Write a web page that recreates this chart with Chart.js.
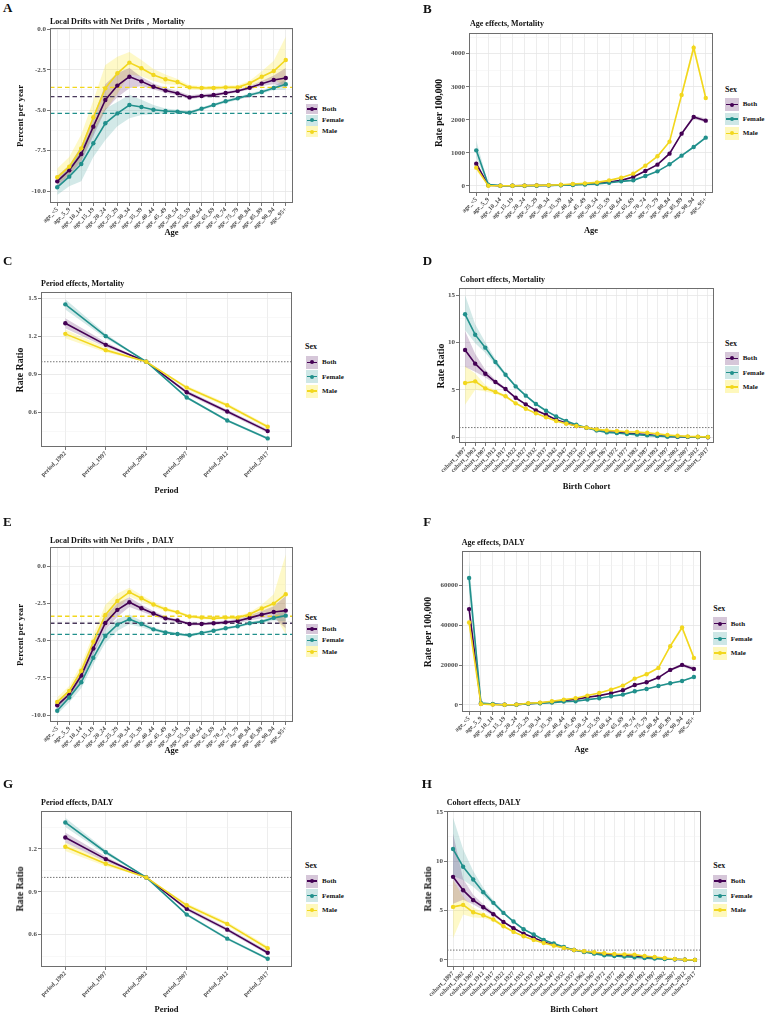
<!DOCTYPE html>
<html><head><meta charset="utf-8">
<script src="https://cdn.jsdelivr.net/npm/chart.js@4/dist/chart.umd.min.js"></script>
<style>
html,body{margin:0;padding:0;background:#fff;}
body{width:767px;height:1015px;position:relative;overflow:hidden;}
canvas{position:absolute;}
</style></head>
<body>
<script>
// ---------- categories ----------
const ageLabels = ['age_<5','age_5_9','age_10_14','age_15_19','age_20_24','age_25_29','age_30_34','age_35_39','age_40_44','age_45_49','age_50_54','age_55_59','age_60_64','age_65_69','age_70_74','age_75_79','age_80_84','age_85_89','age_90_94','age_95+'];
const periodLabels = ['period_1992','period_1997','period_2002','period_2007','period_2012','period_2017'];
const cohortLabels = ['cohort_1897','cohort_1902','cohort_1907','cohort_1912','cohort_1917','cohort_1922','cohort_1927','cohort_1932','cohort_1937','cohort_1942','cohort_1947','cohort_1952','cohort_1957','cohort_1962','cohort_1967','cohort_1972','cohort_1977','cohort_1982','cohort_1987','cohort_1992','cohort_1997','cohort_2002','cohort_2007','cohort_2012','cohort_2017'];
const sexNames = ['Both','Female','Male'];

// ---------- tick labels ----------
const A_yTicks = [-10, -7.5, -5, -2.5, 0];
const B_yTicks = [0, 1000, 2000, 3000, 4000];
const C_yTicks = [0.6, 0.9, 1.2, 1.5];
const D_yTicks = [0, 5, 10, 15];
const E_yTicks = [-10, -7.5, -5, -2.5, 0];
const F_yTicks = [0, 20000, 40000, 60000];
const G_yTicks = [0.6, 0.9, 1.2];
const H_yTicks = [0, 5, 10, 15];

// ---------- A: Local drifts, Mortality ----------
const A_both     = [-9.40,-8.72,-7.71,-6.02,-4.37,-3.48,-2.93,-3.22,-3.55,-3.79,-3.96,-4.21,-4.12,-4.06,-3.94,-3.81,-3.61,-3.36,-3.13,-3.01];
const A_bothLo   = [-9.75,-9.05,-8.20,-6.60,-5.00,-4.20,-3.65,-3.50,-3.72,-3.92,-4.08,-4.32,-4.22,-4.15,-4.03,-3.90,-3.72,-3.50,-3.40,-3.60];
const A_bothHi   = [-9.05,-8.40,-7.20,-5.40,-3.40,-2.70,-2.40,-2.95,-3.35,-3.62,-3.82,-4.08,-4.00,-3.96,-3.85,-3.72,-3.50,-3.20,-2.85,-2.40];
const A_female   = [-9.77,-9.11,-8.33,-7.05,-5.81,-5.20,-4.68,-4.80,-4.97,-5.05,-5.09,-5.15,-4.91,-4.68,-4.45,-4.27,-4.06,-3.88,-3.63,-3.40];
const A_femaleLo = [-10.25,-9.70,-9.40,-7.90,-6.85,-6.00,-5.50,-5.30,-5.25,-5.20,-5.20,-5.25,-5.00,-4.77,-4.55,-4.37,-4.16,-3.99,-3.76,-3.75];
const A_femaleHi = [-9.30,-8.55,-7.30,-6.10,-4.90,-4.50,-4.05,-4.35,-4.68,-4.90,-4.98,-5.05,-4.82,-4.59,-4.35,-4.17,-3.96,-3.77,-3.50,-3.10];
const A_male     = [-9.15,-8.49,-7.36,-5.44,-3.65,-2.72,-2.06,-2.41,-2.82,-3.09,-3.26,-3.59,-3.63,-3.63,-3.59,-3.59,-3.34,-2.93,-2.58,-1.90];
const A_maleLo   = [-9.60,-9.00,-8.10,-6.40,-5.00,-4.00,-2.80,-2.90,-3.20,-3.40,-3.45,-3.72,-3.75,-3.75,-3.71,-3.72,-3.50,-3.25,-3.10,-3.55];
const A_maleHi   = [-8.60,-7.90,-6.50,-4.40,-2.20,-1.70,-1.40,-1.90,-2.45,-2.80,-3.07,-3.46,-3.51,-3.51,-3.47,-3.46,-3.18,-2.60,-1.95,-0.45];
const A_netDrift = [-4.16, -5.20, -3.59];

// ---------- B: Age effects, Mortality ----------
const B_both     = [675,20,8,8,10,15,20,30,45,60,85,120,170,272,453,645,977,1582,2086,1975];
const B_bothLo   = [600,15,5,5,7,11,16,25,40,54,78,112,160,258,435,622,948,1545,2030,1920];
const B_bothHi   = [760,26,11,11,13,19,24,35,50,66,92,128,180,286,471,668,1006,1620,2140,2040];
const B_female   = [1078,40,10,8,8,10,15,22,32,45,65,100,140,170,300,443,655,917,1179,1461];
const B_femaleLo = [850,33,7,5,5,7,11,18,28,40,59,93,132,161,288,428,636,895,1150,1425];
const B_femaleHi = [1380,48,13,11,11,13,19,26,36,50,71,107,148,179,312,458,674,939,1208,1497];
const B_male     = [554,5,5,8,12,20,25,38,58,80,110,170,252,373,615,897,1340,2750,4181,2660];
const B_maleLo   = [470,2,2,5,9,16,21,33,52,74,102,161,240,358,595,872,1305,2690,4050,2590];
const B_maleHi   = [640,9,8,11,15,24,29,43,64,86,118,179,264,388,635,922,1375,2810,4330,2730];

// ---------- C: Period effects, Mortality ----------
const C_both     = [1.305,1.134,1.0,0.758,0.605,0.450];
const C_bothLo   = [1.265,1.114,1.0,0.743,0.590,0.435];
const C_bothHi   = [1.345,1.154,1.0,0.773,0.620,0.465];
const C_female   = [1.455,1.203,1.0,0.716,0.534,0.392];
const C_femaleLo = [1.415,1.185,1.0,0.706,0.524,0.382];
const C_femaleHi = [1.495,1.221,1.0,0.726,0.544,0.402];
const C_male     = [1.221,1.092,1.0,0.795,0.655,0.484];
const C_maleLo   = [1.186,1.074,1.0,0.780,0.640,0.469];
const C_maleHi   = [1.256,1.110,1.0,0.810,0.670,0.499];
const C_refLine  = [1];

// ---------- D: Cohort effects, Mortality ----------
const D_both     = [9.19,7.75,6.69,5.81,5.07,4.15,3.45,2.82,2.36,1.83,1.48,1.16,0.99,0.74,0.56,0.49,0.39,0.32,0.25,0.14,0.07,0.04,0.02,0.01,-0.02];
const D_bothLo   = [7.4,6.9,6.3,5.6,4.93,4.05,3.38,2.76,2.31,1.79,1.45,1.14,0.97,0.72,0.54,0.47,0.37,0.30,0.23,0.12,0.05,0.02,0.0,-0.01,-0.04];
const D_bothHi   = [11.2,8.8,7.1,6.05,5.21,4.25,3.52,2.88,2.41,1.87,1.51,1.18,1.01,0.76,0.58,0.51,0.41,0.34,0.27,0.16,0.09,0.06,0.04,0.03,0.0];
const D_female   = [12.96,10.81,9.44,7.92,6.58,5.35,4.37,3.49,2.78,2.18,1.69,1.30,0.99,0.70,0.49,0.42,0.32,0.25,0.18,0.11,0.04,0.03,0.02,0.01,0.0];
const D_femaleLo = [11.3,9.9,8.9,7.6,6.4,5.22,4.27,3.42,2.72,2.13,1.65,1.27,0.97,0.68,0.47,0.40,0.30,0.23,0.16,0.09,0.02,0.01,0.0,-0.01,-0.02];
const D_femaleHi = [15.0,11.9,10.0,8.25,6.76,5.48,4.47,3.56,2.84,2.23,1.73,1.33,1.01,0.72,0.51,0.44,0.34,0.27,0.20,0.13,0.06,0.05,0.04,0.03,0.02];
const D_male     = [5.70,5.88,5.14,4.75,4.30,3.56,2.99,2.50,2.08,1.69,1.41,1.16,0.99,0.81,0.70,0.63,0.56,0.53,0.46,0.35,0.21,0.14,0.07,0.04,0.01];
const D_maleLo   = [3.4,5.0,4.8,4.55,4.15,3.46,2.92,2.44,2.03,1.65,1.38,1.14,0.97,0.79,0.68,0.61,0.54,0.51,0.44,0.33,0.19,0.12,0.05,0.02,-0.01];
const D_maleHi   = [7.5,6.7,5.5,4.95,4.45,3.66,3.06,2.56,2.13,1.73,1.44,1.18,1.01,0.83,0.72,0.65,0.58,0.55,0.48,0.37,0.23,0.16,0.09,0.06,0.03];
const D_refLine  = [1];

// ---------- E: Local drifts, DALY ----------
const E_both     = [-9.35,-8.61,-7.35,-5.53,-3.82,-2.94,-2.43,-2.83,-3.19,-3.51,-3.66,-3.89,-3.89,-3.84,-3.78,-3.69,-3.48,-3.26,-3.08,-2.99];
const E_bothLo   = [-9.60,-8.90,-7.70,-5.95,-4.30,-3.40,-2.75,-3.05,-3.35,-3.63,-3.77,-3.99,-3.98,-3.94,-3.89,-3.82,-3.65,-3.50,-3.45,-4.20];
const E_bothHi   = [-9.10,-8.30,-7.00,-5.10,-3.35,-2.50,-2.10,-2.60,-3.02,-3.38,-3.55,-3.79,-3.79,-3.73,-3.66,-3.55,-3.30,-3.02,-2.70,-2.00];
const E_female   = [-9.71,-8.83,-7.80,-6.16,-4.70,-3.93,-3.57,-3.89,-4.25,-4.45,-4.56,-4.65,-4.49,-4.34,-4.18,-4.04,-3.84,-3.73,-3.48,-3.33];
const E_femaleLo = [-9.95,-9.15,-8.20,-6.60,-5.15,-4.35,-3.90,-4.10,-4.38,-4.55,-4.65,-4.74,-4.58,-4.43,-4.27,-4.13,-3.94,-3.85,-3.65,-3.70];
const E_femaleHi = [-9.45,-8.50,-7.40,-5.70,-4.30,-3.55,-3.25,-3.68,-4.12,-4.35,-4.47,-4.56,-4.40,-4.25,-4.09,-3.95,-3.74,-3.60,-3.30,-2.95];
const E_male     = [-9.12,-8.38,-7.03,-5.08,-3.28,-2.34,-1.75,-2.16,-2.58,-2.90,-3.10,-3.39,-3.46,-3.51,-3.46,-3.46,-3.24,-2.85,-2.52,-1.89];
const E_maleLo   = [-9.40,-8.70,-7.50,-5.60,-3.90,-2.90,-2.05,-2.40,-2.75,-3.03,-3.20,-3.49,-3.56,-3.61,-3.56,-3.57,-3.38,-3.10,-3.20,-4.60];
const E_maleHi   = [-8.80,-8.05,-6.60,-4.60,-2.60,-1.85,-1.45,-1.95,-2.40,-2.77,-3.00,-3.29,-3.36,-3.41,-3.36,-3.35,-3.10,-2.60,-1.90,0.80];
const E_netDrift = [-3.84, -4.58, -3.37];

// ---------- F: Age effects, DALY ----------
const F_both     = [47970,670,330,100,200,700,1000,1500,2300,2800,3850,4700,5850,7350,10000,11370,13700,17550,20050,18050];
const F_bothLo   = [44500,550,250,60,150,620,900,1380,2150,2650,3650,4480,5600,7050,9650,11000,13250,17000,19300,17000];
const F_bothHi   = [51500,800,420,140,250,780,1100,1620,2450,2950,4050,4920,6100,7650,10350,11740,14150,18100,20800,19100];
const F_female   = [63510,1000,500,100,150,600,850,1200,1700,1850,2700,3350,4350,5200,6850,8000,9500,10850,12030,14040];
const F_femaleLo = [56000,850,400,60,100,530,760,1100,1580,1730,2550,3180,4150,5000,6600,7720,9200,10500,11650,13600];
const F_femaleHi = [72000,1150,600,140,200,670,940,1300,1820,1970,2850,3520,4550,5400,7100,8280,9800,11200,12410,14480];
const F_male     = [41280,500,200,100,200,850,1200,1850,2700,3350,4700,6000,7700,9700,13200,15380,18550,29420,38780,23570];
const F_maleLo   = [38500,400,130,60,140,760,1080,1700,2520,3150,4450,5720,7380,9320,12750,14900,18000,28700,37600,22700];
const F_maleHi   = [44500,600,270,140,260,940,1320,2000,2880,3550,4950,6280,8020,10080,13650,15860,19100,30140,39960,24440];

// ---------- G: Period effects, DALY ----------
const G_both     = [1.279,1.128,1.0,0.780,0.635,0.474];
const G_bothLo   = [1.244,1.110,1.0,0.767,0.622,0.461];
const G_bothHi   = [1.314,1.146,1.0,0.793,0.648,0.487];
const G_female   = [1.384,1.176,1.0,0.740,0.572,0.432];
const G_femaleLo = [1.352,1.160,1.0,0.731,0.563,0.423];
const G_femaleHi = [1.416,1.192,1.0,0.749,0.581,0.441];
const G_male     = [1.214,1.095,1.0,0.805,0.675,0.505];
const G_maleLo   = [1.184,1.078,1.0,0.790,0.660,0.490];
const G_maleHi   = [1.244,1.112,1.0,0.820,0.690,0.520];
const G_refLine  = [1];

// ---------- H: Cohort effects, DALY ----------
const H_both     = [8.41,7.06,6.05,5.34,4.63,3.85,3.21,2.67,2.26,1.82,1.52,1.25,1.01,0.84,0.71,0.61,0.51,0.44,0.37,0.27,0.20,0.14,0.07,0.03,0.01];
const H_bothLo   = [5.7,6.1,5.6,5.05,4.45,3.74,3.13,2.61,2.21,1.78,1.49,1.22,0.99,0.82,0.69,0.59,0.49,0.42,0.35,0.25,0.18,0.12,0.05,0.01,-0.01];
const H_bothHi   = [12.8,8.2,6.6,5.65,4.85,3.97,3.30,2.73,2.31,1.86,1.55,1.28,1.03,0.86,0.73,0.63,0.53,0.46,0.39,0.29,0.22,0.16,0.09,0.05,0.03];
const H_female   = [11.22,9.43,8.14,6.86,5.78,4.76,3.89,3.11,2.57,2.03,1.66,1.32,1.01,0.81,0.64,0.47,0.41,0.34,0.27,0.20,0.14,0.10,0.07,0.03,0.01];
const H_femaleLo = [8.5,8.1,7.4,6.5,5.55,4.62,3.80,3.05,2.52,1.99,1.63,1.29,0.99,0.79,0.62,0.45,0.39,0.32,0.25,0.18,0.12,0.08,0.05,0.01,-0.01];
const H_femaleHi = [14.4,11.2,9.0,7.3,6.05,4.92,3.99,3.18,2.62,2.07,1.69,1.35,1.03,0.83,0.66,0.49,0.43,0.36,0.29,0.22,0.16,0.12,0.09,0.05,0.03];
const H_male     = [5.37,5.57,4.83,4.53,4.09,3.41,2.84,2.40,2.03,1.72,1.45,1.22,1.01,0.88,0.78,0.68,0.61,0.57,0.54,0.41,0.30,0.20,0.10,0.03,0.01];
const H_maleLo   = [2.2,4.6,4.3,4.25,3.9,3.28,2.75,2.33,1.97,1.67,1.41,1.19,0.99,0.85,0.75,0.65,0.58,0.54,0.51,0.38,0.27,0.17,0.07,0.0,-0.02];
const H_maleHi   = [8.1,6.4,5.3,4.8,4.3,3.54,2.93,2.47,2.09,1.77,1.49,1.25,1.03,0.91,0.81,0.71,0.64,0.60,0.57,0.44,0.33,0.23,0.13,0.06,0.04];
const H_refLine  = [1];

// ---------- styles ----------
const FONT = "'Liberation Serif','Times New Roman',serif";
const lineColors = ['#440154', '#21908C', '#F2D71E'];
const netColors  = ['#4a3a5c', '#21908C', '#F2D71E'];
const bandColors = ['rgba(68,1,84,0.20)', 'rgba(33,144,140,0.20)', 'rgba(253,231,37,0.25)'];
const keyColors  = ['rgba(68,1,84,0.22)', 'rgba(33,144,140,0.22)', 'rgba(253,231,37,0.30)'];

const panels = [
  {letter:'A', lp:[3,8], title:'Local Drifts with Net Drifts，Mortality', tp:[50,21.7],
   plot:[50,28,243,175], ymin:-10.74, ymax:0.08, yTicks:A_yTicks, dec:1, labels:ageLabels,
   series:[[A_both,A_bothLo,A_bothHi],[A_female,A_femaleLo,A_femaleHi],[A_male,A_maleLo,A_maleHi]],
   net:A_netDrift, xTitle:'Age', xty:232.3, yTitle:'Percent per year', ytx:20, yts:8.8,
   lg:{sx:305, sy:98, rows:[109.2,120.3,131.5], kx:306, kw:12, kh:10.5, lx:322}},
  {letter:'B', lp:[423,8.3], title:'Age effects, Mortality', tp:[470,23.7],
   plot:[469,33,244,160], ymin:-212, ymax:4625, yTicks:B_yTicks, dec:0, labels:ageLabels,
   series:[[B_both,B_bothLo,B_bothHi],[B_female,B_femaleLo,B_femaleHi],[B_male,B_maleLo,B_maleHi]],
   xTitle:'Age', xty:230, yTitle:'Rate per 100,000', ytx:440, yts:9.5,
   lg:{sx:725, sy:89.3, rows:[104.5,118.8,133.3], kx:725, kw:14, kh:12.5, lx:742.7}},
  {letter:'C', lp:[3,261], title:'Period effects, Mortality', tp:[41,283.3],
   plot:[41,292,251,155], ymin:0.324, ymax:1.553, yTicks:C_yTicks, dec:1, labels:periodLabels,
   series:[[C_both,C_bothLo,C_bothHi],[C_female,C_femaleLo,C_femaleHi],[C_male,C_maleLo,C_maleHi]],
   ref:C_refLine, xTitle:'Period', xty:490, yTitle:'Rate Ratio', ytx:20, yts:9.8,
   lg:{sx:305, sy:346.7, rows:[362.3,376.7,391], kx:306, kw:12, kh:13, lx:322}},
  {letter:'D', lp:[422.7,261], title:'Cohort effects, Mortality', tp:[460,279.3],
   plot:[459,288,255,155], ymin:-0.63, ymax:15.74, yTicks:D_yTicks, dec:0, labels:cohortLabels,
   series:[[D_both,D_bothLo,D_bothHi],[D_female,D_femaleLo,D_femaleHi],[D_male,D_maleLo,D_maleHi]],
   ref:D_refLine, xTitle:'Birth Cohort', xty:486, yTitle:'Rate Ratio', ytx:440.7, yts:9.8,
   lg:{sx:725, sy:343.7, rows:[358.3,372.7,386.9], kx:725, kw:14, kh:13, lx:742.7}},
  {letter:'E', lp:[3,521.7], title:'Local Drifts with Net Drifts，DALY', tp:[50,540.7],
   plot:[50,547,243,175], ymin:-10.47, ymax:1.28, yTicks:E_yTicks, dec:1, labels:ageLabels,
   series:[[E_both,E_bothLo,E_bothHi],[E_female,E_femaleLo,E_femaleHi],[E_male,E_maleLo,E_maleHi]],
   net:E_netDrift, xTitle:'Age', xty:750, yTitle:'Percent per year', ytx:20, yts:8.8,
   lg:{sx:305, sy:617.3, rows:[629,640.3,651.7], kx:306, kw:12, kh:10.5, lx:322}},
  {letter:'F', lp:[423.3,521.7], title:'Age effects, DALY', tp:[461.7,542.7],
   plot:[462,551,239,161], ymin:-3510, ymax:77050, yTicks:F_yTicks, dec:0, labels:ageLabels,
   series:[[F_both,F_bothLo,F_bothHi],[F_female,F_femaleLo,F_femaleHi],[F_male,F_maleLo,F_maleHi]],
   xTitle:'Age', xty:749, yTitle:'Rate per 100,000', ytx:427.7, yts:9.8,
   lg:{sx:713.3, sy:608.3, rows:[623.7,638.7,653], kx:713.3, kw:13.3, kh:13, lx:730.7}},
  {letter:'G', lp:[3,783.3], title:'Period effects, DALY', tp:[41,802.3],
   plot:[41,811,251,156], ymin:0.374, ymax:1.464, yTicks:G_yTicks, dec:1, labels:periodLabels,
   series:[[G_both,G_bothLo,G_bothHi],[G_female,G_femaleLo,G_femaleHi],[G_male,G_maleLo,G_maleHi]],
   ref:G_refLine, xTitle:'Period', xty:1008.7, yTitle:'Rate Ratio', ytx:20, yts:9.8,
   lg:{sx:305, sy:865.7, rows:[881,895.7,910.3], kx:306, kw:12, kh:13, lx:322}},
  {letter:'H', lp:[421.7,784], title:'Cohort effects, DALY', tp:[446.7,802.3],
   plot:[447,811,254,156], ymin:-0.71, ymax:15.07, yTicks:H_yTicks, dec:0, labels:cohortLabels,
   series:[[H_both,H_bothLo,H_bothHi],[H_female,H_femaleLo,H_femaleHi],[H_male,H_maleLo,H_maleHi]],
   ref:H_refLine, xTitle:'Birth Cohort', xty:1009, yTitle:'Rate Ratio', ytx:427.7, yts:9.8,
   lg:{sx:713.3, sy:866, rows:[881,895.7,910], kx:713.3, kw:13.3, kh:13, lx:730.7}}
];

// ---------- helpers ----------
function addText(str, x, cy, size, mode) {
  const d = document.createElement('div');
  d.textContent = str;
  d.style.cssText = "position:absolute;white-space:nowrap;font-family:" + FONT +
    ";font-weight:bold;font-size:" + size + "px;line-height:" + (size * 1.2) + "px;color:#111;";
  if (mode === 'rot') {
    d.style.left = x + 'px'; d.style.top = cy + 'px';
    d.style.transform = 'translate(-50%,-50%) rotate(-90deg)';
  } else if (mode === 'center') {
    d.style.left = x + 'px'; d.style.top = (cy - size * 0.6) + 'px';
    d.style.transform = 'translateX(-50%)';
  } else {
    d.style.left = x + 'px'; d.style.top = (cy - size * 0.6) + 'px';
  }
  document.body.appendChild(d);
  return d;
}
function addBox(x, y, w, h, css) {
  const d = document.createElement('div');
  d.style.cssText = 'position:absolute;left:' + x + 'px;top:' + y + 'px;width:' + w + 'px;height:' + h + 'px;' + css;
  document.body.appendChild(d);
}
function buildYTicks(major, min, max) {
  const t = major.map(v => ({value: v, minor: false}));
  const step = major.length > 1 ? major[1] - major[0] : 1;
  const ext = [major[0] - step].concat(major, [major[major.length - 1] + step]);
  for (let i = 0; i < ext.length - 1; i++) {
    const m = (ext[i] + ext[i + 1]) / 2;
    if (m >= min && m <= max) t.push({value: m, minor: true});
  }
  t.sort((a, b) => a.value - b.value);
  return t;
}

const boxPlugin = {
  id: 'panelBox',
  afterDatasetsDraw(chart) {
    const {ctx, chartArea: a} = chart;
    ctx.save();
    ctx.strokeStyle = '#6e6e6e';
    ctx.lineWidth = 1;
    ctx.strokeRect(a.left + 0.5, a.top + 0.5, a.right - a.left - 1, a.bottom - a.top - 1);
    ctx.restore();
  }
};

const L = 45, T = 8, R = 6, B = 42;

panels.forEach(p => {
  const [px, py, pw, ph] = p.plot;
  const n = p.labels.length;
  const xmin = -0.6, xmax = n - 1 + 0.6;
  const canvas = document.createElement('canvas');
  canvas.width = pw + L + R; canvas.height = ph + T + B;
  canvas.style.left = (px - L) + 'px'; canvas.style.top = (py - T) + 'px';
  canvas.style.width = canvas.width + 'px'; canvas.style.height = canvas.height + 'px';
  document.body.appendChild(canvas);

  const ds = [];
  p.series.forEach((s, k) => {
    ds.push({data: s[1].map((v, i) => ({x: i, y: v})), borderWidth: 0, pointRadius: 0, fill: false, order: 30 + k});
    ds.push({data: s[2].map((v, i) => ({x: i, y: v})), borderWidth: 0, pointRadius: 0, fill: '-1',
             backgroundColor: bandColors[k], order: 30 + k});
  });
  if (p.net) {
    p.net.forEach((v, k) => ds.push({data: [{x: xmin, y: v}, {x: xmax, y: v}], borderColor: netColors[k],
      borderWidth: 1.3, borderDash: [4.5, 3], pointRadius: 0, fill: false, order: 10 + k}));
  }
  if (p.ref) {
    p.ref.forEach(v => ds.push({data: [{x: xmin, y: v}, {x: xmax, y: v}], borderColor: '#666',
      borderWidth: 0.9, borderDash: [1.5, 1.5], pointRadius: 0, fill: false, order: 15}));
  }
  p.series.forEach((s, k) => {
    ds.push({label: sexNames[k], data: s[0].map((v, i) => ({x: i, y: v})), borderColor: lineColors[k],
      borderWidth: 1.6, pointRadius: 2.2, pointBackgroundColor: lineColors[k], pointBorderWidth: 0,
      fill: false, order: 3 - k});
  });

  const yt = buildYTicks(p.yTicks, p.ymin, p.ymax);
  const isMinor = c => c.tick && c.tick.minor;

  new Chart(canvas, {
    type: 'line',
    data: {datasets: ds},
    options: {
      responsive: false, animation: false, devicePixelRatio: 1, events: [],
      layout: {padding: {top: T, right: R, left: 0, bottom: 0}},
      elements: {line: {tension: 0}},
      plugins: {legend: {display: false}, tooltip: {enabled: false}, title: {display: false}},
      scales: {
        x: {
          type: 'linear', min: xmin, max: xmax,
          afterBuildTicks: ax => { ax.ticks = p.labels.map((_, i) => ({value: i})); },
          afterFit: ax => { ax.height = B; ax.paddingLeft = 0; ax.paddingRight = 0; },
          ticks: {autoSkip: false, maxRotation: 45, minRotation: 45, padding: 0,
                  font: {family: FONT, size: 6.2, weight: 'bold'}, color: '#4d4d4d',
                  callback: v => p.labels[v]},
          grid: {color: '#e9e9e9', lineWidth: 0.8, tickLength: 3, tickColor: '#555'},
          border: {display: false}
        },
        y: {
          type: 'linear', min: p.ymin, max: p.ymax,
          afterBuildTicks: ax => { ax.ticks = yt.map(t => ({value: t.value, minor: t.minor})); },
          afterFit: ax => { ax.width = L; ax.paddingTop = 0; ax.paddingBottom = 0; },
          ticks: {padding: 1, font: {family: FONT, size: 7, weight: 'bold'}, color: '#4d4d4d',
                  callback: (v, i, t) => (t[i] && t[i].minor) ? '' : v.toFixed(p.dec)},
          grid: {color: c => isMinor(c) ? '#f1f1f1' : '#e6e6e6',
                 lineWidth: c => isMinor(c) ? 0.5 : 0.8,
                 tickColor: c => isMinor(c) ? 'rgba(0,0,0,0)' : '#555', tickLength: 3},
          border: {display: false}
        }
      }
    },
    plugins: [boxPlugin]
  });

  // text
  addText(p.letter, p.lp[0], p.lp[1], 13);
  addText(p.title, p.tp[0], p.tp[1], 8);
  addText(p.xTitle, px + pw / 2, p.xty, 8.5, 'center');
  addText(p.yTitle, p.ytx, py + ph / 2, p.yts, 'rot');

  // legend
  const g = p.lg;
  addText('Sex', g.sx, g.sy, 8);
  sexNames.forEach((name, k) => {
    const cy = g.rows[k];
    addBox(g.kx, cy - g.kh / 2, g.kw, g.kh, 'background:' + keyColors[k] + ';');
    addBox(g.kx + 1, cy - 0.8, g.kw - 2, 1.6, 'background:' + lineColors[k] + ';');
    addBox(g.kx + g.kw / 2 - 2, cy - 2, 4, 4, 'background:' + lineColors[k] + ';border-radius:50%;');
    addText(name, g.lx, cy, 7);
  });
});
</script>
</body></html>
